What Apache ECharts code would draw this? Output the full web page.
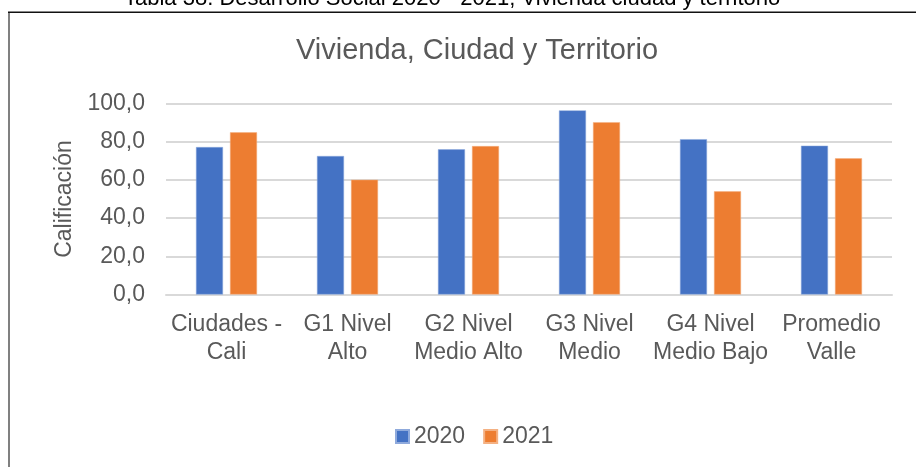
<!DOCTYPE html>
<html>
<head>
<meta charset="utf-8">
<script src="https://cdn.jsdelivr.net/npm/echarts@6/dist/echarts.min.js"></script>
<style>
  html, body { margin: 0; padding: 0; background: #fff; }
  #chart { width: 916px; height: 467px; }
</style>
</head>
<body>
<div id="chart"></div>
<script>
// datos
var categories = ['Ciudades -\nCali', 'G1 Nivel\nAlto', 'G2 Nivel\nMedio Alto', 'G3 Nivel\nMedio', 'G4 Nivel\nMedio Bajo', 'Promedio\nValle']
var values2020 = [77.2, 72.5, 76.0, 96.4, 81.3, 77.9]
var values2021 = [84.9, 60.1, 77.7, 90.2, 54.0, 71.3]
var yTicks = [0, 20, 40, 60, 80, 100]

var font = 'Arial, "Liberation Sans", sans-serif'
var grey = '#595959'

var chart = echarts.init(document.getElementById('chart'))
var option = {
  animation: false,
  backgroundColor: '#fff',
  title: {
    text: 'Vivienda, Ciudad y Territorio',
    left: 472,
    top: 31,
    textAlign: 'center',
    textStyle: { color: grey, fontSize: 29, fontWeight: 'normal', fontFamily: font }
  },
  // encabezado cortado y marco del grafico
  graphic: [
    {
      type: 'text',
      left: 124,
      top: -12,
      style: { text: 'Tabla 38. Desarrollo Social 2020 - 2021; Vivienda ciudad y territorio', fill: '#000', fontSize: 22, fontFamily: font }
    },
    { type: 'rect', shape: { x: 8, y: 12, width: 2, height: 460 }, style: { fill: '#808080' } },
    { type: 'rect', shape: { x: 8, y: 11.5, width: 920, height: 1.5 }, style: { fill: '#111' } }
  ],
  legend: {
    data: ['2020', '2021'],
    top: 420,
    left: 390,
    itemWidth: 13,
    itemHeight: 13,
    itemGap: 18,
    icon: 'rect',
    textStyle: { color: grey, fontSize: 23, fontFamily: font, padding: [0, 0, 0, 0] }
  },
  grid: { left: 166, right: 24, top: 103.5, bottom: 172.5, containLabel: false },
  xAxis: {
    type: 'category',
    data: categories,
    axisLine: { show: true, lineStyle: { color: '#d9d9d9', width: 2 } },
    axisTick: { show: false },
    axisLabel: { color: grey, fontSize: 23, fontFamily: font, lineHeight: 28, margin: 16, interval: 0 }
  },
  yAxis: {
    type: 'value',
    min: yTicks[0],
    max: yTicks[yTicks.length - 1],
    interval: 20,
    name: 'Calificación',
    nameLocation: 'middle',
    nameGap: 90,
    nameTextStyle: { color: grey, fontSize: 23, fontFamily: font },
    axisLine: { show: false },
    axisTick: { show: false },
    splitLine: { lineStyle: { color: '#d9d9d9', width: 2 } },
    axisLabel: {
      color: grey, fontSize: 23, fontFamily: font, margin: 21,
      formatter: function (v) { return v.toFixed(1).replace('.', ',') }
    }
  },
  series: [
    {
      name: '2020',
      type: 'bar',
      data: values2020,
      barWidth: 27,
      barGap: '26%',
      itemStyle: { color: '#4472C4', borderColor: '#8faadc', borderWidth: 0.5 }
    },
    {
      name: '2021',
      type: 'bar',
      data: values2021,
      barWidth: 27,
      itemStyle: { color: '#ED7D31', borderColor: '#f4b183', borderWidth: 0.5 }
    }
  ]
}
chart.setOption(option)
</script>
</body>
</html>
